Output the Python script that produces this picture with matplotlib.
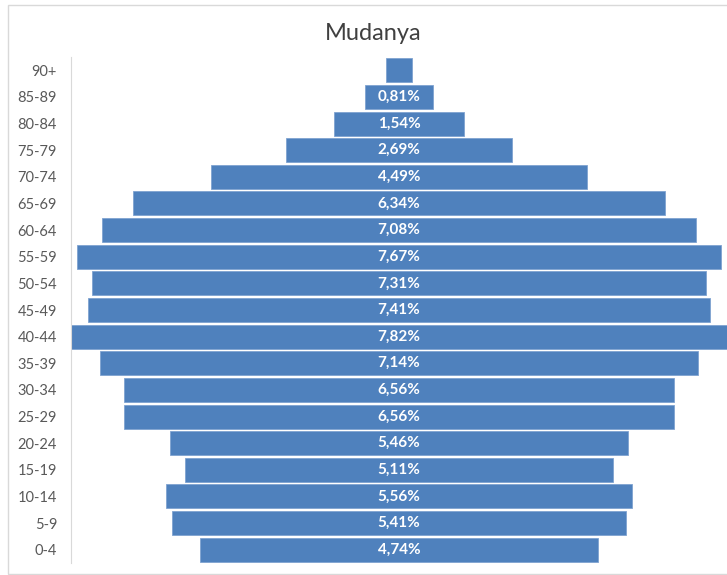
import matplotlib.pyplot as plt
from matplotlib.patches import Rectangle

plt.rcParams['font.family'] = ['Lato', 'DejaVu Sans']

groups = ["90+", "85-89", "80-84", "75-79", "70-74", "65-69", "60-64", "55-59",
          "50-54", "45-49", "40-44", "35-39", "30-34", "25-29", "20-24", "15-19",
          "10-14", "5-9", "0-4"]
shares = [0.30, 0.81, 1.54, 2.69, 4.49, 6.34, 7.08, 7.67, 7.31, 7.41, 7.82,
          7.14, 6.56, 6.56, 5.46, 5.11, 5.56, 5.41, 4.74]
labels = ["", "0,81%", "1,54%", "2,69%", "4,49%", "6,34%", "7,08%", "7,67%",
          "7,31%", "7,41%", "7,82%", "7,14%", "6,56%", "6,56%", "5,46%",
          "5,11%", "5,56%", "5,41%", "4,74%"]

fig = plt.figure(figsize=(7.27, 5.75), dpi=100)
fig.patches.append(Rectangle((8 / 727, 1 / 575), 1.0, 569 / 575, transform=fig.transFigure,
                             fill=False, edgecolor="#D9D9D9", linewidth=1))

ax = fig.add_axes([71 / 727, 12 / 575, 656 / 727, 506 / 575])
ypos = list(range(len(groups)))
lefts = [-v / 2 for v in shares]
ax.barh(ypos, shares, left=lefts, height=0.9, color="#4F81BD",
        edgecolor="#7FA3D1", linewidth=0.6)

for y, lab in zip(ypos, labels):
    if lab:
        ax.text(0, y, lab, ha="center", va="center", color="white",
                fontsize=11, fontweight="bold")

ax.set_xlim(-3.91, 3.91)
ax.set_ylim(len(groups) - 0.5, -0.5)
ax.set_yticks(ypos)
ax.set_yticklabels(groups, fontsize=10.5, color="#595959")
ax.tick_params(axis="y", length=0, pad=10)
ax.set_xticks([])
for s in ["top", "right", "bottom"]:
    ax.spines[s].set_visible(False)
ax.spines["left"].set_color("#D9D9D9")

fig.text(373 / 727, 1 - 33 / 575, "Mudanya", ha="center", va="center",
         fontsize=17, color="#404040")

fig.savefig("out.png", dpi=100)
